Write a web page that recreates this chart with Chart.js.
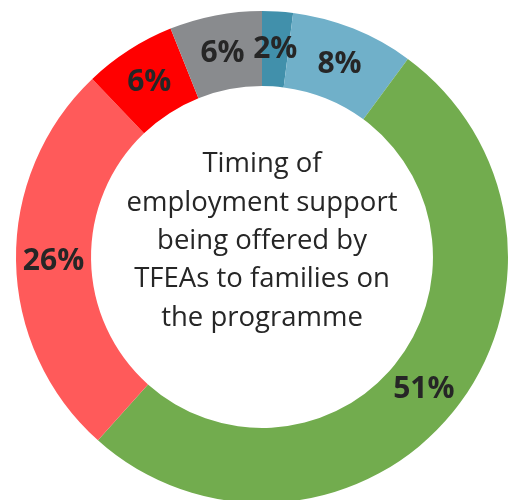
<!DOCTYPE html>
<html>
<head>
<meta charset="utf-8">
<script src="https://cdn.jsdelivr.net/npm/chart.js@4"></script>
<style>
  html, body { margin: 0; padding: 0; background: #ffffff; overflow: hidden; }
  #wrap { position: relative; width: 509px; height: 505px; }
</style>
</head>
<body>
<div id="wrap"><canvas id="chart"></canvas></div>
<script>
// Share of families by timing of employment support (clockwise from the top)
const categories = ['Category A', 'Category B', 'Category C', 'Category D', 'Category E', 'Category F'];
const percentages = [2, 8, 51, 26, 6, 6];
const sliceColours = ['#4190ab', '#70b0c9', '#72ac4e', '#ff5a5a', '#ff0000', '#898b8e'];
const centreLines = ['Timing of', 'employment support', 'being offered by', 'TFEAs to families on', 'the programme'];

const FONT = '"Open Sans", "Noto Sans", sans-serif';

// Writes each slice's percentage at the middle of its ring segment
const sliceLabels = {
  id: 'sliceLabels',
  afterDatasetsDraw(chart) {
    const ctx = chart.ctx;
    const meta = chart.getDatasetMeta(0);
    const values = chart.data.datasets[0].data;
    ctx.save();
    ctx.font = 'bold 30px ' + FONT;
    ctx.fillStyle = '#262626';
    ctx.textAlign = 'center';
    ctx.textBaseline = 'middle';
    meta.data.forEach((arc, i) => {
      const p = arc.tooltipPosition();
      ctx.fillText(values[i] + '%', p.x, p.y + 1);
    });
    ctx.restore();
  }
};

// Title text inside the hole
const centreText = {
  id: 'centreText',
  afterDraw(chart) {
    const ctx = chart.ctx;
    const arc = chart.getDatasetMeta(0).data[0];
    const cx = arc.x, cy = arc.y;
    const lineH = 38.3;
    ctx.save();
    ctx.font = '27.5px ' + FONT;
    ctx.fillStyle = '#262626';
    ctx.textAlign = 'center';
    ctx.textBaseline = 'alphabetic';
    const midBaseline = cy - 8;
    centreLines.forEach((line, i) => {
      ctx.fillText(line, cx, midBaseline + (i - 2) * lineH);
    });
    ctx.restore();
  }
};

new Chart(document.getElementById('chart'), {
  type: 'doughnut',
  data: {
    labels: categories,
    datasets: [{
      data: percentages,
      backgroundColor: sliceColours,
      borderWidth: 0,
      hoverOffset: 0
    }]
  },
  options: {
    responsive: true,
    maintainAspectRatio: false,
    animation: false,
    cutout: '69.5%',
    layout: { padding: { left: 16, right: 1, top: 11, bottom: 2 } },
    plugins: {
      legend: { display: false },
      tooltip: { enabled: false }
    }
  },
  plugins: [sliceLabels, centreText]
});
</script>
</body>
</html>
